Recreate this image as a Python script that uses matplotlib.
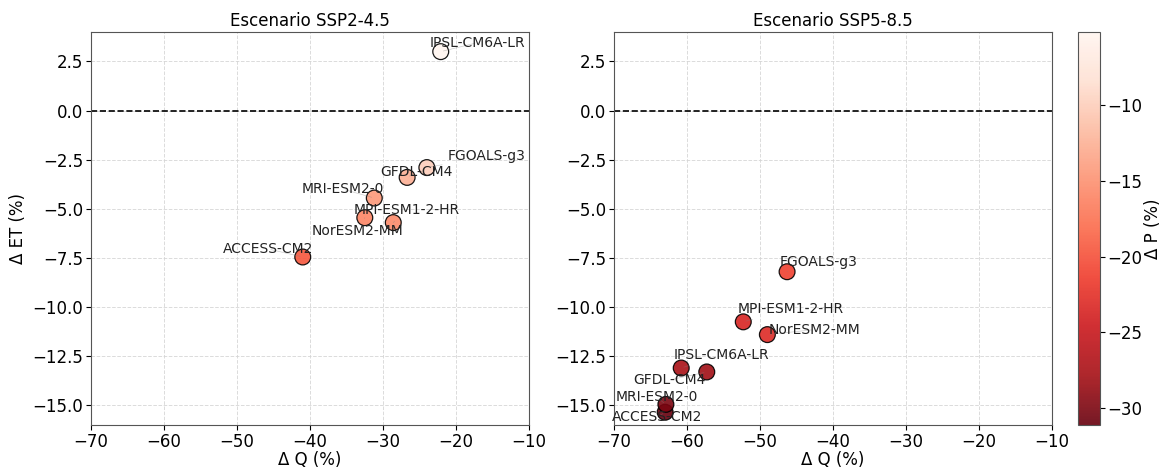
import matplotlib
matplotlib.use("Agg")
import matplotlib.pyplot as plt
import numpy as np

# Data
models = ["ACCESS-CM2", "GFDL-CM4", "IPSL-CM6A-LR", "MPI-ESM1-2-HR",
          "MRI-ESM2-0", "NorESM2-MM", "FGOALS-g3"]

q_245 = [-41.0, -26.7, -22.1, -28.6, -31.2, -32.5, -24.0]
et_245 = [-7.45, -3.4, 3.0, -5.7, -4.45, -5.45, -2.9]
p_245 = [-19.5, -12.5, -5.2, -15.5, -14.5, -16.0, -10.0]

q_585 = [-63.0, -57.3, -60.8, -52.3, -62.9, -49.0, -46.3]
et_585 = [-15.35, -13.3, -13.1, -10.75, -14.95, -11.4, -8.2]
p_585 = [-31.1, -28.0, -27.5, -23.5, -30.0, -23.0, -21.0]

# label offsets (points) to mimic the adjusted text placement
offs_245 = {"ACCESS-CM2": (-25, 5.8), "GFDL-CM4": (6.5, 3.6), "IPSL-CM6A-LR": (26.6, 6.5),
            "MPI-ESM1-2-HR": (9.4, 9.4), "MRI-ESM2-0": (-23, 6.5), "NorESM2-MM": (-5, -9.4),
            "FGOALS-g3": (43, 8)}
offs_585 = {"ACCESS-CM2": (-6, -3.6), "GFDL-CM4": (-27, -5.8), "IPSL-CM6A-LR": (29, 9.4),
            "MPI-ESM1-2-HR": (34, 9.4), "MRI-ESM2-0": (-6.5, 5), "NorESM2-MM": (34, 3.6),
            "FGOALS-g3": (23, 7.2)}

vmin = min(p_245 + p_585)
vmax = max(p_245 + p_585)

fig = plt.figure(figsize=(11.61, 4.69), dpi=100)
ax1 = fig.add_axes([0.0784, 0.0938, 0.3773, 0.838])
ax2 = fig.add_axes([0.5289, 0.0938, 0.3773, 0.838])
cax = fig.add_axes([0.9285, 0.0938, 0.019, 0.838])

panels = [(ax1, q_245, et_245, p_245, offs_245, "Escenario SSP2-4.5"),
          (ax2, q_585, et_585, p_585, offs_585, "Escenario SSP5-8.5")]

for ax, q, et, p, offs, title in panels:
    sc = ax.scatter(q, et, c=p, cmap="Reds_r", vmin=vmin, vmax=vmax, s=130,
                    edgecolors="black", linewidths=0.9, alpha=0.9, zorder=3)
    for name, x, y in zip(models, q, et):
        ax.annotate(name, (x, y), xytext=offs[name], textcoords="offset points",
                    ha="center", va="center", fontsize=10, color="#222222", zorder=4,
                    arrowprops=dict(arrowstyle="-", color="grey", lw=0.5, alpha=0.4))
    ax.axhline(0, color="black", linestyle="--", linewidth=1.2, zorder=2)
    ax.set_xlim(-70, -10)
    ax.set_ylim(-16, 4)
    ax.grid(True, linestyle="--", color="lightgrey", linewidth=0.7, alpha=0.8)
    ax.set_title(title, fontsize=12, pad=4)
    ax.set_xlabel("Δ Q (%)", fontsize=12, labelpad=0)
    ax.tick_params(labelsize=12, pad=2)
    for sp in ax.spines.values():
        sp.set_color("#555555")

ax1.set_ylabel("Δ ET (%)", fontsize=12)

cb = fig.colorbar(sc, cax=cax)
cb.set_label("Δ P (%)", fontsize=12, labelpad=1)
cb.ax.tick_params(labelsize=12, pad=2)
cb.outline.set_edgecolor("#555555")

plt.savefig("out.png", dpi=100)
